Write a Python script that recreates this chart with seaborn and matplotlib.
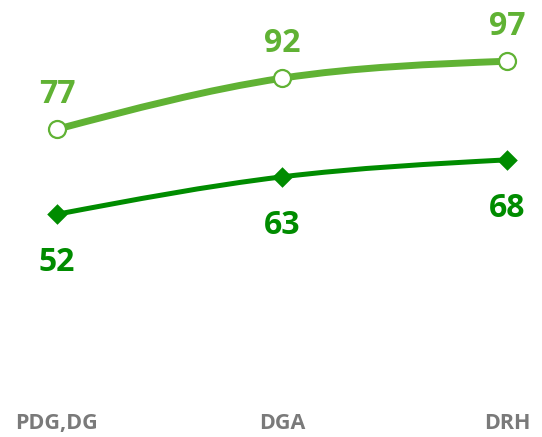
import numpy as np
import pandas as pd
import matplotlib
matplotlib.use('Agg')
import matplotlib.pyplot as plt
from matplotlib.path import Path
from matplotlib.patches import PathPatch
import seaborn as sns

categories = ['PDG,DG', 'DGA', 'DRH']
top_values = [77, 92, 97]
bottom_values = [52, 63, 68]

top_color = '#60b234'
bottom_color = '#008c00'


def monotone_path(xs, ys):
    # d3 curveMonotoneX style cubic segments
    xs = np.asarray(xs, float)
    ys = np.asarray(ys, float)
    n = len(xs)
    h = np.diff(xs)
    s = np.diff(ys) / h
    t = np.zeros(n)
    for i in range(1, n - 1):
        p = (s[i - 1] * h[i] + s[i] * h[i - 1]) / (h[i - 1] + h[i])
        t[i] = (np.sign(s[i - 1]) + np.sign(s[i])) * min(abs(s[i - 1]), abs(s[i]), 0.5 * abs(p))
    t[0] = (3 * s[0] - t[1]) / 2
    t[-1] = (3 * s[-1] - t[-2]) / 2
    verts = [(xs[0], ys[0])]
    codes = [Path.MOVETO]
    for i in range(n - 1):
        dx = h[i] / 3
        verts += [(xs[i] + dx, ys[i] + dx * t[i]),
                  (xs[i + 1] - dx, ys[i + 1] - dx * t[i + 1]),
                  (xs[i + 1], ys[i + 1])]
        codes += [Path.CURVE4] * 3
    return Path(verts, codes)


df = pd.DataFrame({'x': range(len(categories)), 'top': top_values, 'bottom': bottom_values})

sns.set_style('white')
plt.rcParams['font.family'] = ['Open Sans', 'DejaVu Sans']

fig = plt.figure(figsize=(5.42, 4.37), dpi=100)
ax = fig.add_axes([0, 0.105, 1, 0.895])

ax.add_patch(PathPatch(monotone_path(df['x'], df['top']), facecolor='none',
                       edgecolor=top_color, lw=5, capstyle='round', zorder=2))
ax.add_patch(PathPatch(monotone_path(df['x'], df['bottom']), facecolor='none',
                       edgecolor=bottom_color, lw=3.6, capstyle='round', zorder=2))

sns.scatterplot(data=df, x='x', y='top', marker='o', s=150, color='white',
                edgecolor=top_color, linewidth=1.6, ax=ax, zorder=3)
sns.scatterplot(data=df, x='x', y='bottom', marker='D', s=110, color=bottom_color,
                edgecolor=bottom_color, linewidth=0, ax=ax, zorder=3)

for x, v in zip(df['x'], df['top']):
    ax.annotate(str(v), (x, v), xytext=(0, 28), textcoords='offset points',
                ha='center', va='center_baseline', fontsize=23, fontweight='bold', color=top_color)
for x, v in zip(df['x'], df['bottom']):
    ax.annotate(str(v), (x, v), xytext=(0, -32), textcoords='offset points',
                ha='center', va='center_baseline', fontsize=23, fontweight='bold', color=bottom_color)

ax.set_xlim(-0.2533, 2.1556)
ax.set_ylim(0, 115)
ax.set_xticks(df['x'])
ax.set_xticklabels(categories, fontsize=15.5, fontweight='bold', color='#7a7a7a')
ax.tick_params(axis='x', length=0, pad=16)
ax.set_yticks([])
ax.set_xlabel('')
ax.set_ylabel('')
sns.despine(ax=ax, left=True, bottom=True)

fig.savefig('out.png', dpi=100)
